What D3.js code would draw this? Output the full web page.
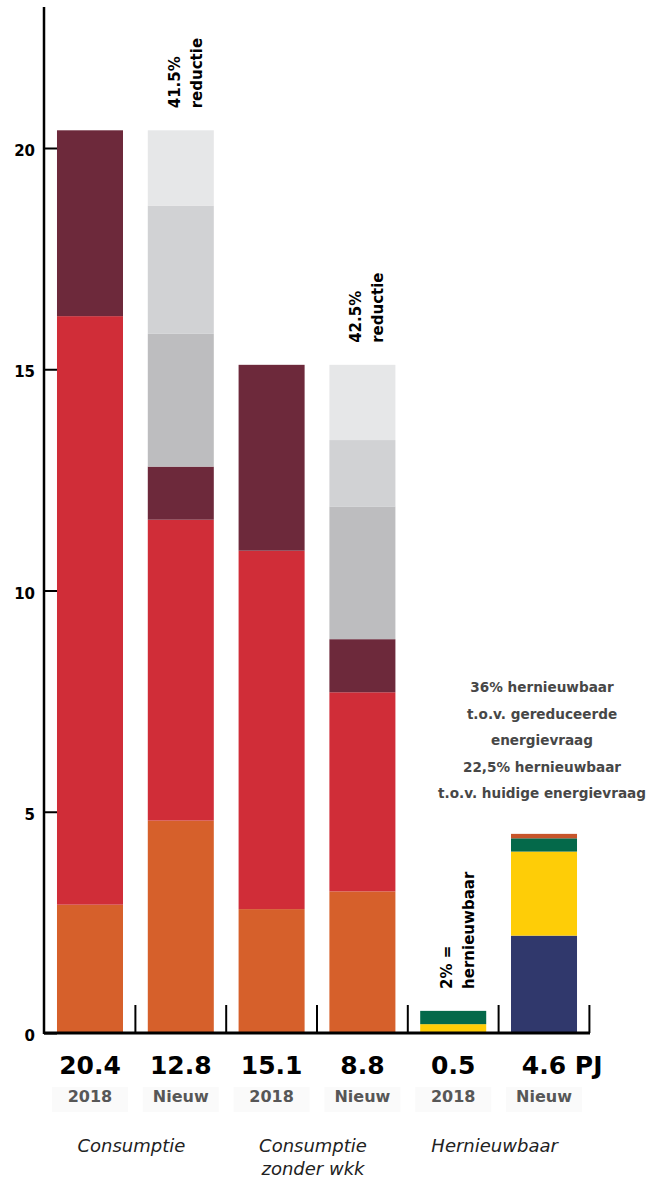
<!DOCTYPE html>
<html>
<head>
<meta charset="utf-8">
<script src="https://cdn.jsdelivr.net/npm/d3@7"></script>
<style>
  body { margin: 0; background: #fff; }
  svg { display: block; font-family: "DejaVu Sans", sans-serif; }
</style>
</head>
<body>
<div id="chart"></div>
<script>
// bars, left to right
const bars = ['c2018', 'cNieuw', 'w2018', 'wNieuw', 'h2018', 'hNieuw'];
const totalLabels = ['20.4', '12.8', '15.1', '8.8', '0.5', '4.6'];
const unitLabels = ['', '', '', '', '', ' PJ'];
const yearLabels = ['2018', 'Nieuw', '2018', 'Nieuw', '2018', 'Nieuw'];
const groupLabels = [['Consumptie'], ['Consumptie', 'zonder wkk'], ['Hernieuwbaar']];

// stacked segments (PJ), bottom to top
const segmentKeys = ['oranje', 'rood', 'bordeaux', 'reductie1', 'reductie2', 'reductie3', 'blauw', 'geel', 'groen', 'rest'];
const oranje    = [2.9, 4.8, 2.8, 3.2, 0, 0];
const rood      = [13.3, 6.8, 8.1, 4.5, 0, 0];
const bordeaux  = [4.2, 1.2, 4.2, 1.2, 0, 0];
const reductie1 = [0, 3.0, 0, 3.0, 0, 0];
const reductie2 = [0, 2.9, 0, 1.5, 0, 0];
const reductie3 = [0, 1.7, 0, 1.7, 0, 0];
const blauw     = [0, 0, 0, 0, 0, 2.2];
const geel      = [0, 0, 0, 0, 0.2, 1.9];
const groen     = [0, 0, 0, 0, 0.3, 0.3];
const rest      = [0, 0, 0, 0, 0, 0.1];

const yTicks = [0, 5, 10, 15, 20];

// rotated notes above bars
const barNotes = [
    { bar: 'cNieuw', lines: ['41.5%', 'reductie'] },
    { bar: 'wNieuw', lines: ['42.5%', 'reductie'] },
    { bar: 'h2018', lines: ['2% =', 'hernieuwbaar'] }
];
const noteLines = ['36% hernieuwbaar', 't.o.v. gereduceerde', 'energievraag', '22,5% hernieuwbaar', 't.o.v. huidige energievraag'];

const colors = {
    oranje: '#d6602b', rood: '#d02d38', bordeaux: '#6d293b',
    reductie1: '#bdbdbf', reductie2: '#d1d2d4', reductie3: '#e6e7e8',
    blauw: '#30386c', geel: '#fecd07', groen: '#04694a', rest: '#c7552b'
};

const seriesData = { oranje, rood, bordeaux, reductie1, reductie2, reductie3, blauw, geel, groen, rest };
const table = bars.map((b, i) => {
    const row = { bar: b };
    segmentKeys.forEach(k => row[k] = seriesData[k][i]);
    return row;
});

const width = 646, height = 1183;
const axisX = 44, axisTop = 7, baseY = 1033, plotRight = 590;

const svg = d3.select('#chart').append('svg')
    .attr('width', width)
    .attr('height', height);

const x = d3.scaleBand()
    .domain(bars)
    .range([axisX, plotRight])
    .paddingInner(0.273)
    .paddingOuter(0.143);

const y = d3.scaleLinear()
    .domain([0, 20])
    .range([baseY, 148]);

// stacked bars
const stack = d3.stack().keys(segmentKeys);
const layers = stack(table);

svg.append('g').selectAll('g')
    .data(layers)
    .join('g')
    .attr('fill', d => colors[d.key])
    .selectAll('rect')
    .data(d => d.filter(s => s[1] - s[0] > 0))
    .join('rect')
    .attr('x', d => x(d.data.bar))
    .attr('width', x.bandwidth())
    .attr('y', d => y(d[1]))
    .attr('height', d => y(d[0]) - y(d[1]));

// y axis
const yAxis = d3.axisLeft(y)
    .tickValues(yTicks)
    .tickSize(-13)
    .tickPadding(9)
    .tickFormat(d3.format('d'));

const yAxisG = svg.append('g')
    .attr('transform', `translate(${axisX},0)`)
    .call(yAxis)
    .call(g => g.select('.domain').remove());

yAxisG.selectAll('.tick line')
    .attr('stroke', '#000')
    .attr('stroke-width', 2);
yAxisG.selectAll('.tick text')
    .attr('dy', '0.5em')
    .attr('fill', '#000')
    .style('font-family', '"DejaVu Sans", sans-serif')
    .style('font-size', '15px')
    .style('font-weight', 'bold');

svg.append('line')
    .attr('x1', axisX).attr('x2', axisX)
    .attr('y1', axisTop).attr('y2', baseY + 1)
    .attr('stroke', '#000')
    .attr('stroke-width', 2.5);

// baseline with separators
const step = x.step();
const sepX = bars.map(b => x(b) + x.bandwidth() + (step - x.bandwidth()) / 2);
svg.append('g').selectAll('line')
    .data(sepX)
    .join('line')
    .attr('x1', d => d).attr('x2', d => d)
    .attr('y1', baseY - 28).attr('y2', baseY)
    .attr('stroke', '#000')
    .attr('stroke-width', 2);

svg.append('line')
    .attr('x1', axisX).attr('x2', plotRight)
    .attr('y1', baseY).attr('y2', baseY)
    .attr('stroke', '#000')
    .attr('stroke-width', 3);

// bottom labels
const cx = b => x(b) + x.bandwidth() / 2;

svg.append('g').selectAll('rect')
    .data(bars)
    .join('rect')
    .attr('x', d => cx(d) - 38)
    .attr('y', 1087)
    .attr('width', 76)
    .attr('height', 25)
    .attr('fill', '#fafafa');

const totals = svg.append('g').selectAll('text')
    .data(bars)
    .join('text')
    .attr('x', d => cx(d))
    .attr('y', 1074)
    .attr('text-anchor', 'middle')
    .attr('fill', '#000')
    .style('font-size', '25px')
    .style('font-weight', 'bold')
    .text((d, i) => totalLabels[i]);

totals.each(function(d, i) {
    if (!unitLabels[i]) return;
    const w = this.getComputedTextLength();
    svg.append('text')
        .attr('x', cx(d) + w / 2)
        .attr('y', 1074)
        .attr('fill', '#000')
        .style('font-size', '25px')
        .style('font-weight', 'bold')
        .style('white-space', 'pre')
        .text(unitLabels[i]);
});

svg.append('g').selectAll('text')
    .data(bars)
    .join('text')
    .attr('x', d => cx(d))
    .attr('y', 1102)
    .attr('text-anchor', 'middle')
    .attr('fill', '#575757')
    .style('font-size', '16px')
    .style('font-weight', 'bold')
    .text((d, i) => yearLabels[i]);

const groups = svg.append('g').selectAll('text')
    .data(groupLabels)
    .join('text')
    .attr('x', (d, i) => (cx(bars[i * 2]) + cx(bars[i * 2 + 1])) / 2 - 4)
    .attr('y', 1152)
    .attr('text-anchor', 'middle')
    .attr('fill', '#222')
    .style('font-size', '18px')
    .style('font-style', 'oblique');

groups.selectAll('tspan')
    .data(d => d)
    .join('tspan')
    .attr('x', function() { return d3.select(this.parentNode).attr('x'); })
    .attr('dy', (d, i) => i === 0 ? 0 : 23)
    .text(d => d);

// rotated notes
barNotes.forEach(n => {
    const top = d3.max(layers, l => l[bars.indexOf(n.bar)][1]);
    const g = svg.append('g')
        .attr('transform', `translate(${cx(n.bar) - 1},${y(top) - 22}) rotate(-90)`);
    n.lines.forEach((line, i) => {
        g.append('text')
            .attr('x', 0)
            .attr('y', i * 22)
            .attr('fill', '#000')
            .style('font-size', '15px')
            .style('font-weight', 'bold')
            .text(line);
    });
});

// annotation above renewable bar
svg.append('g').selectAll('text')
    .data(noteLines)
    .join('text')
    .attr('x', 542)
    .attr('y', (d, i) => 692 + i * 26.5)
    .attr('text-anchor', 'middle')
    .attr('fill', '#474747')
    .style('font-size', '13.6px')
    .style('font-weight', 'bold')
    .text(d => d);
</script>
</body>
</html>
